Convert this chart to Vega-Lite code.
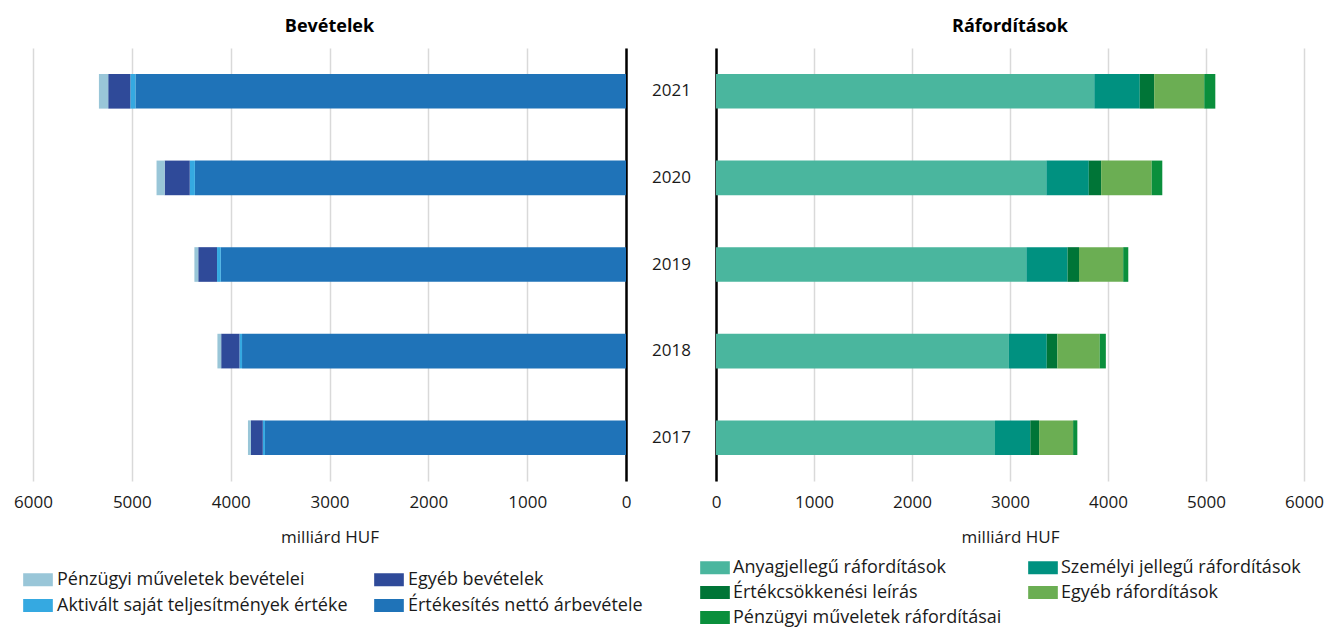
{
  "$schema": "https://vega.github.io/schema/vega-lite/v6.json",
  "padding": {"left": 13, "top": 18, "right": 5, "bottom": 0},
  "background": "white",
  "config": {
    "font": "Open Sans",
    "view": {"stroke": null},
    "axis": {"labelFont": "Open Sans", "labelFontSize": 17, "labelColor": "#1a1a1a", "titleFont": "Open Sans", "titleFontSize": 17, "titleFontWeight": "normal", "titleColor": "#1a1a1a"},
    "title": {"font": "Open Sans", "fontSize": 18, "fontWeight": "bold", "color": "#000000"},
    "legend": {"orient": "none", "direction": "horizontal", "columns": 2, "title": null, "padding": 0, "labelFont": "Open Sans", "labelFontSize": 18, "labelColor": "#1a1a1a", "labelOffset": 4, "labelLimit": 400, "symbolType": "M-1,-0.43H1V0.43H-1Z", "symbolSize": 880, "symbolStrokeWidth": 0, "symbolOpacity": 1, "rowPadding": 7, "columnPadding": 26, "clipHeight": 17}
  },
  "datasets": {
    "bev": [
      {"year": "2021", "cat": "Értékesítés nettó árbevétele", "rank": 1, "value": 4964},
      {"year": "2021", "cat": "Aktivált saját teljesítmények értéke", "rank": 2, "value": 51},
      {"year": "2021", "cat": "Egyéb bevételek", "rank": 3, "value": 224},
      {"year": "2021", "cat": "Pénzügyi műveletek bevételei", "rank": 4, "value": 94},
      {"year": "2020", "cat": "Értékesítés nettó árbevétele", "rank": 1, "value": 4362},
      {"year": "2020", "cat": "Aktivált saját teljesítmények értéke", "rank": 2, "value": 52},
      {"year": "2020", "cat": "Egyéb bevételek", "rank": 3, "value": 254},
      {"year": "2020", "cat": "Pénzügyi műveletek bevételei", "rank": 4, "value": 82},
      {"year": "2019", "cat": "Értékesítés nettó árbevétele", "rank": 1, "value": 4100},
      {"year": "2019", "cat": "Aktivált saját teljesítmények értéke", "rank": 2, "value": 38},
      {"year": "2019", "cat": "Egyéb bevételek", "rank": 3, "value": 190},
      {"year": "2019", "cat": "Pénzügyi műveletek bevételei", "rank": 4, "value": 39},
      {"year": "2018", "cat": "Értékesítés nettó árbevétele", "rank": 1, "value": 3885},
      {"year": "2018", "cat": "Aktivált saját teljesítmények értéke", "rank": 2, "value": 26},
      {"year": "2018", "cat": "Egyéb bevételek", "rank": 3, "value": 185},
      {"year": "2018", "cat": "Pénzügyi műveletek bevételei", "rank": 4, "value": 38},
      {"year": "2017", "cat": "Értékesítés nettó árbevétele", "rank": 1, "value": 3653},
      {"year": "2017", "cat": "Aktivált saját teljesítmények értéke", "rank": 2, "value": 22},
      {"year": "2017", "cat": "Egyéb bevételek", "rank": 3, "value": 120},
      {"year": "2017", "cat": "Pénzügyi műveletek bevételei", "rank": 4, "value": 30}
    ],
    "raf": [
      {"year": "2021", "cat": "Anyagjellegű ráfordítások", "rank": 1, "value": 3860},
      {"year": "2021", "cat": "Személyi jellegű ráfordítások", "rank": 2, "value": 464},
      {"year": "2021", "cat": "Értékcsökkenési leírás", "rank": 3, "value": 147},
      {"year": "2021", "cat": "Egyéb ráfordítások", "rank": 4, "value": 511},
      {"year": "2021", "cat": "Pénzügyi műveletek ráfordításai", "rank": 5, "value": 113},
      {"year": "2020", "cat": "Anyagjellegű ráfordítások", "rank": 1, "value": 3371},
      {"year": "2020", "cat": "Személyi jellegű ráfordítások", "rank": 2, "value": 433},
      {"year": "2020", "cat": "Értékcsökkenési leírás", "rank": 3, "value": 126},
      {"year": "2020", "cat": "Egyéb ráfordítások", "rank": 4, "value": 516},
      {"year": "2020", "cat": "Pénzügyi műveletek ráfordításai", "rank": 5, "value": 108},
      {"year": "2019", "cat": "Anyagjellegű ráfordítások", "rank": 1, "value": 3167},
      {"year": "2019", "cat": "Személyi jellegű ráfordítások", "rank": 2, "value": 420},
      {"year": "2019", "cat": "Értékcsökkenési leírás", "rank": 3, "value": 117},
      {"year": "2019", "cat": "Egyéb ráfordítások", "rank": 4, "value": 451},
      {"year": "2019", "cat": "Pénzügyi műveletek ráfordításai", "rank": 5, "value": 52},
      {"year": "2018", "cat": "Anyagjellegű ráfordítások", "rank": 1, "value": 2989},
      {"year": "2018", "cat": "Személyi jellegű ráfordítások", "rank": 2, "value": 386},
      {"year": "2018", "cat": "Értékcsökkenési leírás", "rank": 3, "value": 108},
      {"year": "2018", "cat": "Egyéb ráfordítások", "rank": 4, "value": 433},
      {"year": "2018", "cat": "Pénzügyi műveletek ráfordításai", "rank": 5, "value": 62},
      {"year": "2017", "cat": "Anyagjellegű ráfordítások", "rank": 1, "value": 2847},
      {"year": "2017", "cat": "Személyi jellegű ráfordítások", "rank": 2, "value": 360},
      {"year": "2017", "cat": "Értékcsökkenési leírás", "rank": 3, "value": 90},
      {"year": "2017", "cat": "Egyéb ráfordítások", "rank": 4, "value": 347},
      {"year": "2017", "cat": "Pénzügyi műveletek ráfordításai", "rank": 5, "value": 43}
    ]
  },
  "bounds": "flush",
  "spacing": 90,
  "resolve": {"scale": {"color": "independent", "x": "independent", "y": "independent"}},
  "hconcat": [
    {
      "title": {"text": "Bevételek", "offset": 12},
      "width": 593,
      "height": 433,
      "data": {"name": "bev"},
      "mark": {"type": "bar"},
      "encoding": {
        "y": {"field": "year", "type": "ordinal", "sort": "descending", "scale": {"paddingInner": 0.6, "paddingOuter": 0.3}, "axis": {"orient": "right", "labels": false, "ticks": false, "title": null, "domainColor": "#000000", "domainWidth": 2.5, "grid": false}},
        "x": {"field": "value", "type": "quantitative", "stack": "zero", "scale": {"domain": [0, 6000], "reverse": true, "nice": false}, "axis": {"values": [0, 1000, 2000, 3000, 4000, 5000, 6000], "format": "d", "title": "milliárd HUF", "domain": false, "ticks": false, "grid": true, "gridColor": "#D9D9D9", "gridWidth": 1.5, "labelPadding": 13, "titlePadding": 19, "labelFlush": false}},
        "color": {"field": "cat", "type": "nominal", "scale": {"domain": ["Pénzügyi műveletek bevételei", "Egyéb bevételek", "Aktivált saját teljesítmények értéke", "Értékesítés nettó árbevétele"], "range": ["#99C6D8", "#2F4A99", "#35A9E1", "#1F73B8"]}, "legend": {"legendX": -10, "legendY": 523}},
        "order": {"field": "rank", "type": "quantitative"}
      }
    },
    {
      "title": {"text": "Ráfordítások", "offset": 12},
      "width": 588,
      "height": 433,
      "data": {"name": "raf"},
      "mark": {"type": "bar"},
      "encoding": {
        "y": {"field": "year", "type": "ordinal", "sort": "descending", "scale": {"paddingInner": 0.6, "paddingOuter": 0.3}, "axis": {"orient": "left", "labelAlign": "center", "labelBaseline": "middle", "labelPadding": 45, "ticks": false, "title": null, "domainColor": "#000000", "domainWidth": 2.5, "grid": false}},
        "x": {"field": "value", "type": "quantitative", "stack": "zero", "scale": {"domain": [0, 6000], "nice": false}, "axis": {"values": [0, 1000, 2000, 3000, 4000, 5000, 6000], "format": "d", "title": "milliárd HUF", "domain": false, "ticks": false, "grid": true, "gridColor": "#D9D9D9", "gridWidth": 1.5, "labelPadding": 13, "titlePadding": 19, "labelFlush": false}},
        "color": {"field": "cat", "type": "nominal", "scale": {"domain": ["Anyagjellegű ráfordítások", "Személyi jellegű ráfordítások", "Értékcsökkenési leírás", "Egyéb ráfordítások", "Pénzügyi műveletek ráfordításai"], "range": ["#4AB69E", "#009180", "#007537", "#6BAE53", "#0A8F3C"]}, "legend": {"legendX": -16, "legendY": 511, "labelOffset": 3, "rowPadding": 6}},
        "order": {"field": "rank", "type": "quantitative"}
      }
    }
  ]
}
